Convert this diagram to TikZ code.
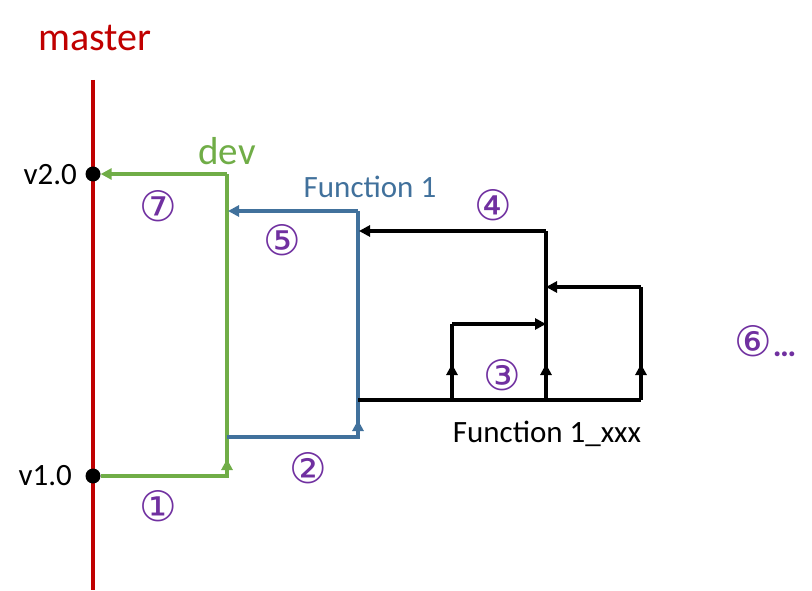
\documentclass[tikz,border=0pt]{standalone}
\usepackage{fontspec}
\setmainfont{Carlito}
\newfontfamily\dvfont{DejaVu Sans}
\usetikzlibrary{arrows.meta}
\definecolor{mred}{HTML}{C00000}
\definecolor{mgreen}{HTML}{70AD47}
\definecolor{mblue}{HTML}{41719C}
\definecolor{mpurple}{HTML}{7030A0}
\tikzset{
  tip/.style={-{Triangle[length=11pt,width=11pt]}},
  greenline/.style={draw=mgreen,line width=3.2pt},
  blueline/.style={draw=mblue,line width=3.2pt},
  blackline/.style={draw=black,line width=3.4pt},
  redline/.style={draw=mred,line width=3.2pt},
  dot/.style={circle,fill=black,inner sep=0pt,minimum size=15pt},
  num/.style={text=mpurple,font=\dvfont\fontsize{42}{42}\selectfont,inner sep=0pt},
  lbl/.style={font=\fontsize{31}{31}\selectfont,inner sep=0pt},
}
\begin{document}
\begin{tikzpicture}[x=1pt,y=-1pt]
\useasboundingbox (0,0) rectangle (812,591);
% master
\coordinate (mtop) at (93,80);
\coordinate (mbot) at (93,590);
\draw[redline] (mtop) -- (mbot);
\node[text=mred,font=\fontsize{40}{40}\selectfont,inner sep=0pt] (master) at (95,38) {master};
\node[dot] (v2) at (93,174) {};
\node[dot] (v1) at (93,476) {};
\node[lbl,anchor=base east] (v2l) at (77,185) {v2.0};
\node[lbl,anchor=base east] (v1l) at (72,485) {v1.0};
% dev
\coordinate (d1) at (227,476);
\coordinate (d2) at (227,174);
\coordinate (darr) at (227,459);
\draw[greenline] (v1) -- (d1) -- (d2);
\draw[greenline,tip] (d1) -- (darr);
\draw[greenline,tip] (d2) -- (v2);
\node[text=mgreen,font=\fontsize{39}{39}\selectfont,inner sep=0pt] (dev) at (227,151) {dev};
% Function 1
\coordinate (f0) at (227,437);
\coordinate (f1) at (358,437);
\coordinate (farr) at (358,420);
\coordinate (f2) at (358,211);
\coordinate (f3) at (228,211);
\draw[blueline] (f0) -- (f1) -- (f2);
\draw[blueline,tip] (f1) -- (farr);
\draw[blueline,tip] (f2) -- (f3);
\node[text=mblue,font=\fontsize{31}{31}\selectfont,inner sep=0pt] (fun1) at (370,187) {Function 1};
% Function 1_xxx
\coordinate (b0) at (358,400);
\coordinate (b1) at (452,400);
\coordinate (b2) at (546,400);
\coordinate (b3) at (641,400);
\coordinate (b1t) at (452,324);
\coordinate (b2t) at (546,231);
\coordinate (b3t) at (641,287);
\coordinate (b1m) at (546,324);
\coordinate (b3m) at (546,287);
\coordinate (b2m) at (359,231);
\coordinate (b1a) at (452,364);
\coordinate (b2a) at (546,364);
\coordinate (b3a) at (641,364);
\draw[blackline] (b0) -- (b3);
\draw[blackline] (b1) -- (b1t);
\draw[blackline] (b2) -- (b2t);
\draw[blackline] (b3) -- (b3t);
\draw[blackline,tip] (b1) -- (b1a);
\draw[blackline,tip] (b2) -- (b2a);
\draw[blackline,tip] (b3) -- (b3a);
\draw[blackline,tip] (b1t) -- (b1m);
\draw[blackline,tip] (b3t) -- (b3m);
\draw[blackline,tip] (b2t) -- (b2m);
\node[font=\fontsize{31}{31}\selectfont,inner sep=0pt,anchor=base] (fx) at (547,442) {Function 1\_xxx};
% numbers
\node[num] (n1) at (158,506) {①};
\node[num] (n2) at (308,468) {②};
\node[num] (n3) at (502,375) {③};
\node[num] (n4) at (493,205) {④};
\node[num] (n5) at (282,240) {⑤};
\node[num] (n7) at (158,206) {⑦};
\node[num,anchor=west] (n6) at (734,341) {⑥\kern1pt{\rmfamily\bfseries\fontsize{33}{33}\selectfont…}};
\end{tikzpicture}
\end{document}
